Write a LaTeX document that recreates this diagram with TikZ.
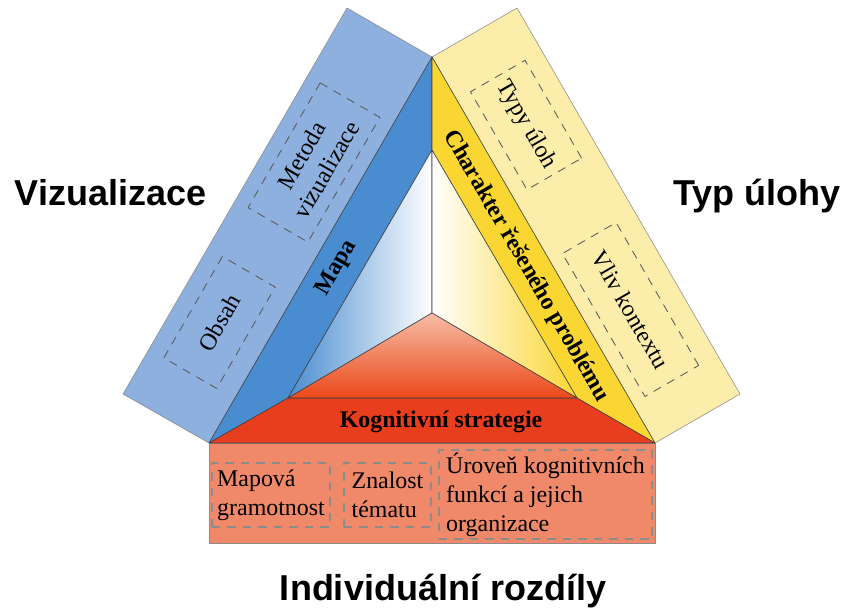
\documentclass[tikz,border=0pt]{standalone}
\usepackage{fontspec}
\setmainfont{Liberation Serif}
\newfontfamily\headfont{Liberation Sans}
\usetikzlibrary{positioning}
\definecolor{slabBlue}{HTML}{8DB0DE}
\definecolor{bandBlue}{HTML}{4A8CD0}
\definecolor{slabGold}{HTML}{FDEDAA}
\definecolor{bandGold}{HTML}{FAD632}
\definecolor{bandRed}{HTML}{E93E1E}
\definecolor{slabRed}{HTML}{EF8969}
\definecolor{paleRed}{HTML}{F6BDA6}

\begin{document}
\begin{tikzpicture}[x=0.025cm, y=-0.025cm, line join=round]
  \tikzstyle{slab} = [draw=black!45, thin];
  \tikzstyle{band} = [draw=black!75, thin];
  \tikzstyle{dbox} = [draw=black!65, line width=0.6pt, dash pattern=on 6pt off 5pt, inner sep=0pt, align=center, font={\fontsize{17}{20.5}\selectfont}];
  \tikzstyle{lowbox} = [dbox, draw=black!45, line width=0.8pt, align=left];
  \tikzstyle{bandLabel} = [font={\fontsize{17}{20.5}\selectfont\bfseries}];
  \tikzstyle{title} = [anchor=base, font={\headfont\bfseries\fontsize{25.6}{30}\selectfont}];

  \useasboundingbox (0,0) rectangle (846,610);

  \coordinate (A) at (432,57);
  \coordinate (B) at (209,443);
  \coordinate (C) at (655,443);
  \coordinate (a) at (432,150);
  \coordinate (b) at (288,398);
  \coordinate (c) at (577,398);
  \coordinate (O) at (432,313);

  % side slabs
  \draw[slab, fill=slabBlue] (A) -- (347,8) -- (123,394) -- (B) -- cycle;
  \draw[slab, fill=slabGold] (A) -- (517,8) -- (740,394) -- (C) -- cycle;
  \draw[slab, fill=slabRed] (B) rectangle (C |- 0,543);

  % bands round the triangle
  \draw[band, fill=bandBlue] (A) -- (a) -- (b) -- (B) -- cycle;
  \draw[band, fill=bandGold] (A) -- (C) -- (c) -- (a) -- cycle;
  \draw[band, fill=bandRed] (B) -- (b) -- (c) -- (C) -- cycle;

  % inner floor
  \draw[band, left color=bandBlue, middle color=bandBlue!55, right color=white] (a) -- (O) -- (b) -- cycle;
  \draw[band, left color=white, middle color=bandGold!55, right color=bandGold] (a) -- (O) -- (c) -- cycle;
  \draw[band, top color=paleRed, bottom color=bandRed!85!orange] (b) -- (O) -- (c) -- cycle;

  \node[bandLabel, rotate=60] (mapa) at (337,268) {Mapa};
  \node[bandLabel, rotate=-60] (charakter) at (526,266) {Charakter řešeného problému};
  \node[bandLabel] (strategie) at (441,422) {Kognitivní strategie};

  \node[dbox, rotate=60, minimum width=3.6cm, minimum height=1.725cm] (metoda) at (314,162.5) {Metoda\\vizualizace};
  \node[dbox, rotate=60, minimum width=2.925cm, minimum height=1.525cm] (obsah) at (219.5,322.5) {Obsah};
  \node[dbox, rotate=-60, minimum width=2.825cm, minimum height=1.575cm] (typy) at (526,125) {Typy úloh};
  \node[dbox, rotate=-60, minimum width=4.125cm, minimum height=1.55cm] (vliv) at (630.5,309.5) {Vliv kontextu};

  \node[lowbox, minimum width=2.95cm, minimum height=1.6cm] (mapova) at (271,495) {Mapová\\gramotnost};
  \node[lowbox, minimum width=2.175cm, minimum height=1.6cm] (znalost) at (387.5,495) {Znalost\\tématu};
  \node[lowbox, minimum width=5.325cm, minimum height=2.225cm] (uroven) at (545.5,494.5) {Úroveň kognitivních\\funkcí a jejich\\organizace};

  \node[title] (vizualizace) at (110.5,205) {Vizualizace};
  \node[title] (typUlohy) at (757,205) {Typ úlohy};
  \node[title] (rozdily) at (443,600) {Individuální rozdíly};
\end{tikzpicture}
\end{document}
